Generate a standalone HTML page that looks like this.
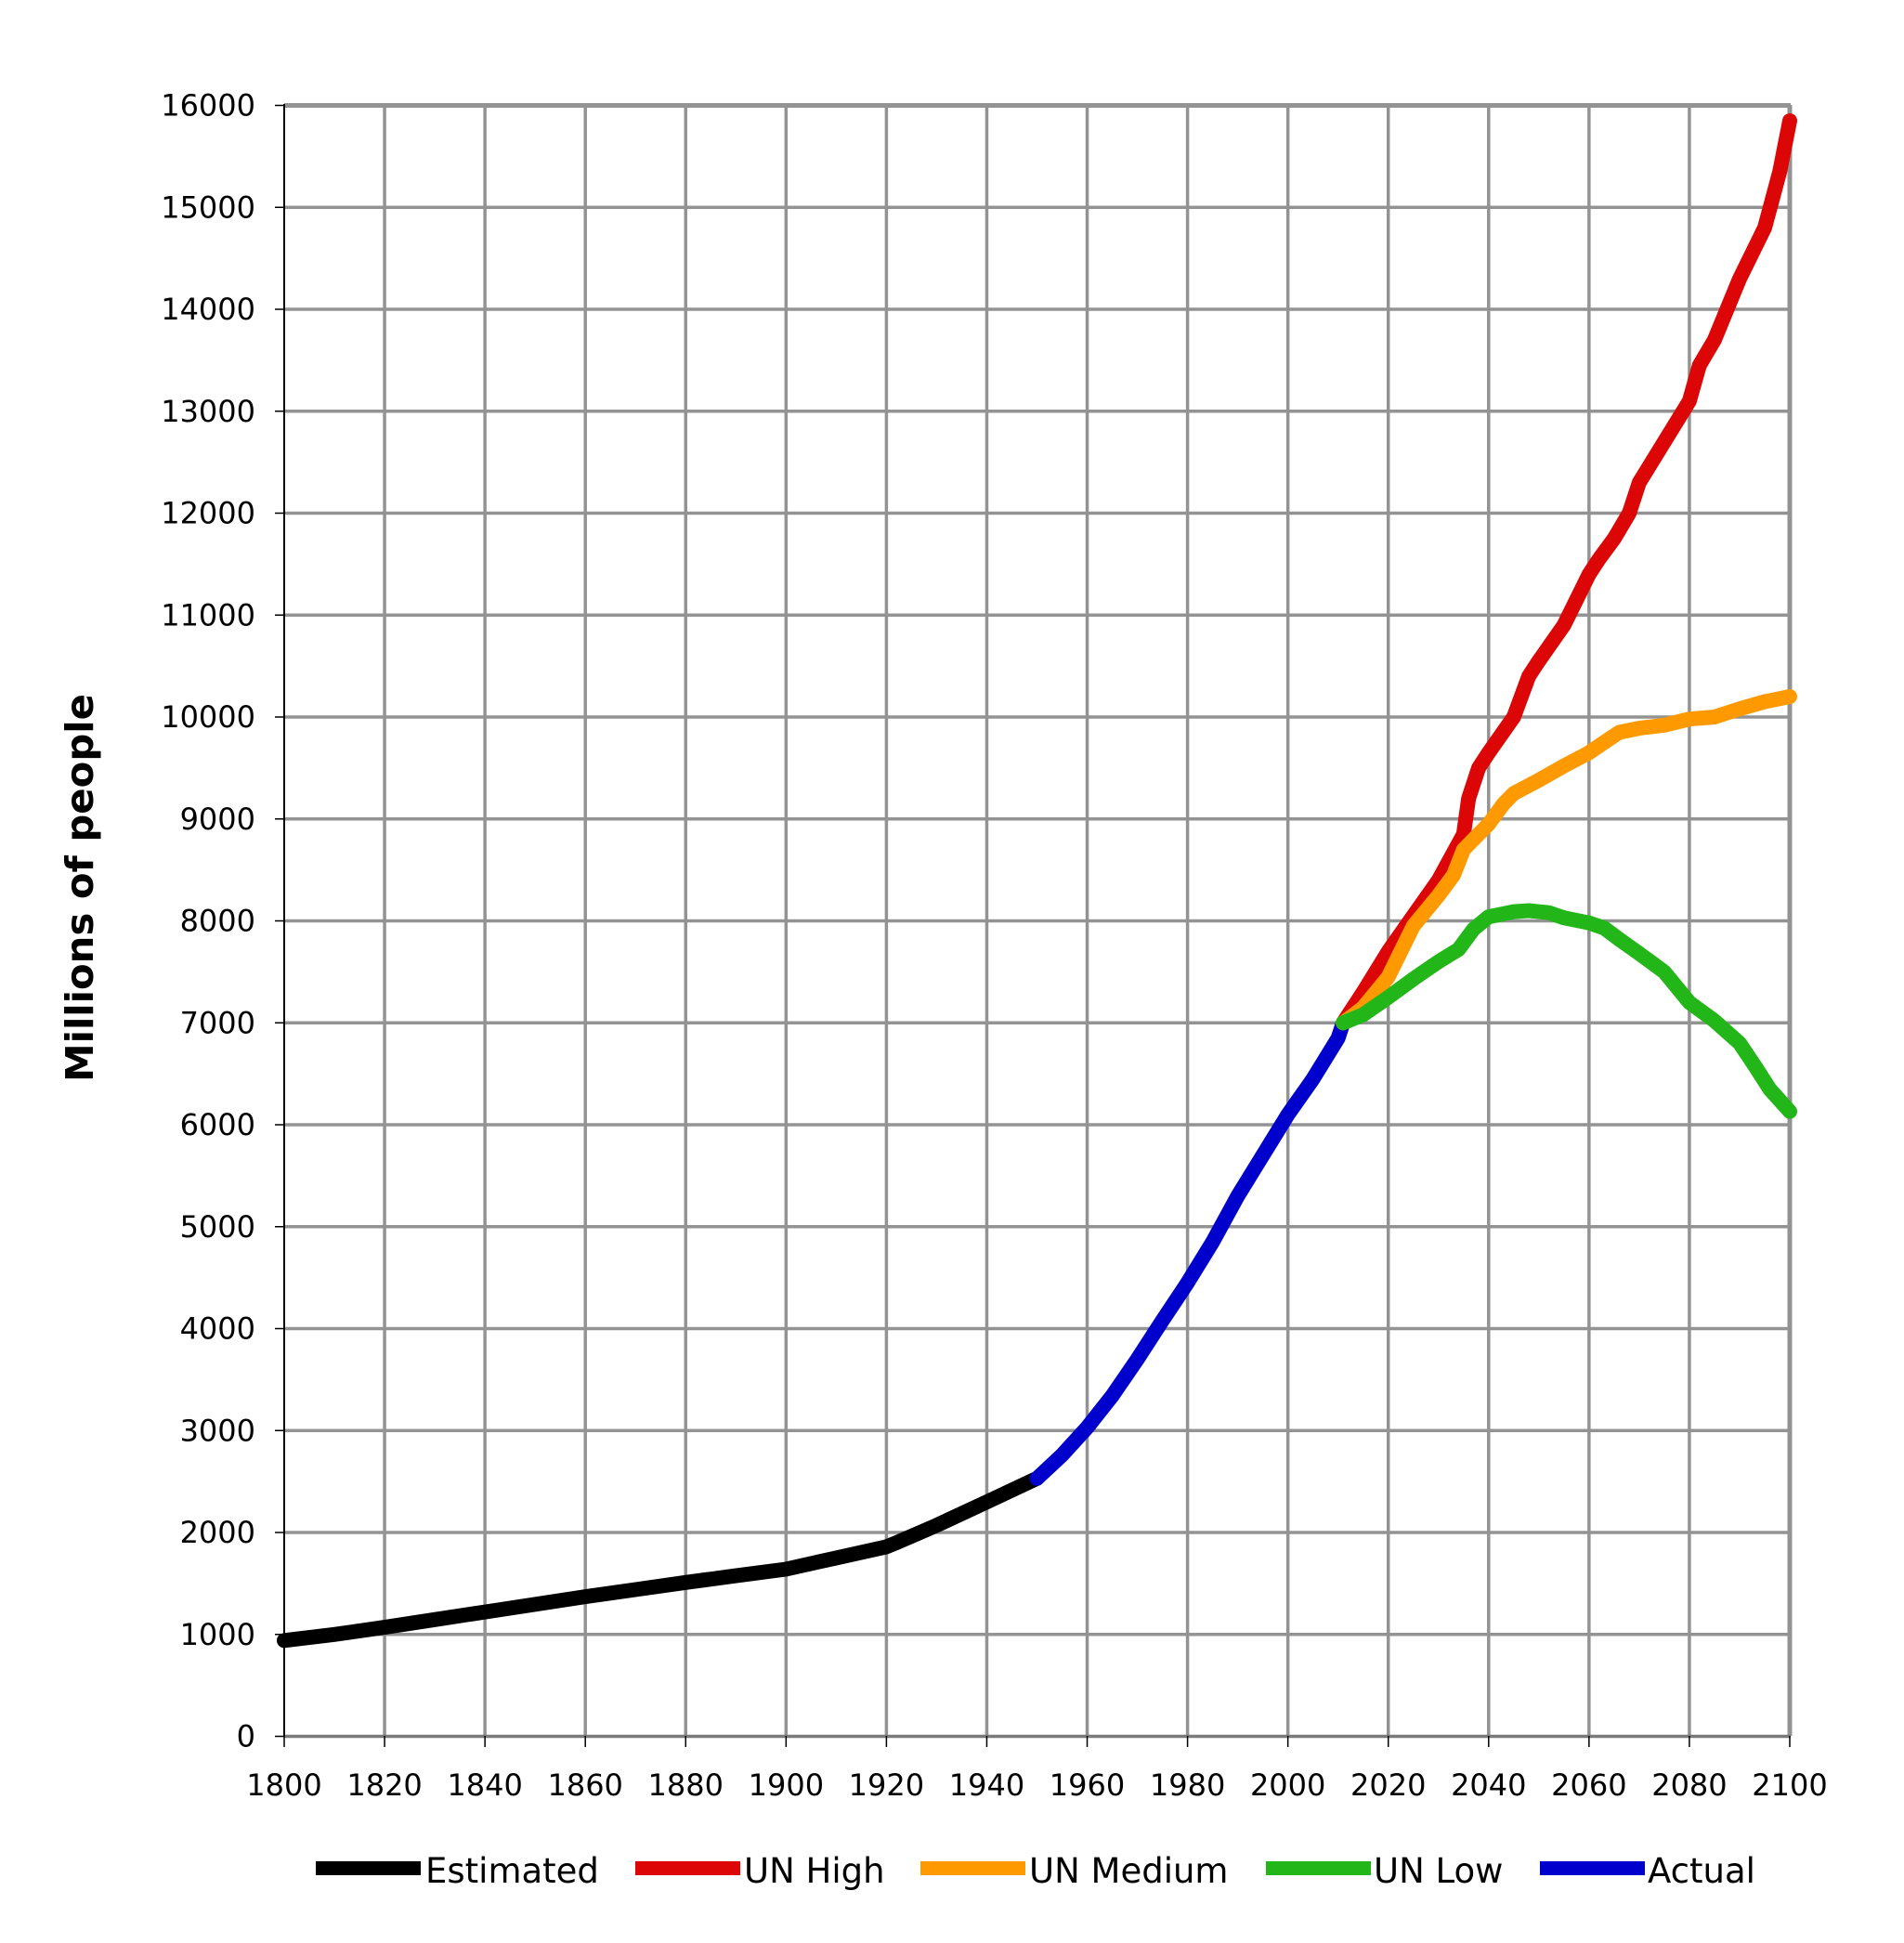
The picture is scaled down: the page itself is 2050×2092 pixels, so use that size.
<!DOCTYPE html>
<html><head><meta charset="utf-8"><style>
html,body{margin:0;padding:0;background:#fff;}
svg{display:block;}
text{font-family:"DejaVu Sans","Liberation Sans",sans-serif;fill:#000;}
</style></head><body>
<svg id="c" width="2050" height="2092" xmlns="http://www.w3.org/2000/svg">
<g id="grid"></g>
<g id="lines" fill="none" stroke-linejoin="round" stroke-linecap="round"></g>
<g font-size="32" text-anchor="end" id="ylab"></g>
<g font-size="32" text-anchor="middle" id="xlab"></g>
<text transform="translate(100,956) rotate(-90)" font-size="41" font-weight="bold" text-anchor="middle" textLength="418" lengthAdjust="spacingAndGlyphs">Millions of people</text>
<g font-size="37">
<rect x="340" y="2004" width="113" height="15" fill="#000"/><text x="458" y="2027">Estimated</text>
<rect x="684" y="2004" width="113" height="15" fill="#dd0606"/><text x="801" y="2027">UN High</text>
<rect x="991" y="2004" width="113" height="15" fill="#ff9900"/><text x="1108" y="2027">UN Medium</text>
<rect x="1363" y="2004" width="113" height="15" fill="#22b618"/><text x="1479" y="2027">UN Low</text>
<rect x="1658" y="2004" width="113" height="15" fill="#0000cc"/><text x="1774" y="2027">Actual</text>
</g>
</svg>
<script>
var NS="http://www.w3.org/2000/svg";
function X(y){return 306+(y-1800)*5.4033;}
function Y(v){return 1869.5-v*0.10975;}
function el(p,t,a,txt){var e=document.createElementNS(NS,t);for(var k in a)e.setAttribute(k,a[k]);if(txt!=null)e.textContent=txt;p.appendChild(e);return e;}
var g=document.getElementById('grid');
for(var i=1;i<=15;i++){el(g,'line',{x1:X(1800+i*20),x2:X(1800+i*20),y1:113,y2:1869,stroke:'#939393','stroke-width':i==15?5:3.5});}
for(var j=1;j<=16;j++){el(g,'line',{x1:306,x2:1928,y1:Y(j*1000),y2:Y(j*1000),stroke:'#939393','stroke-width':j==16?5:3.5});}
el(g,'line',{x1:306,x2:1928,y1:1869.5,y2:1869.5,stroke:'#7a7a7a','stroke-width':3.5});
el(g,'line',{x1:306,x2:306,y1:112,y2:1870,stroke:'#000','stroke-width':2});
for(var j=0;j<=16;j++){el(g,'line',{x1:296,x2:306,y1:Y(j*1000),y2:Y(j*1000),stroke:'#000','stroke-width':1.5});}
for(var i=0;i<=15;i++){el(g,'line',{x1:X(1800+i*20),x2:X(1800+i*20),y1:1869,y2:1881,stroke:'#000','stroke-width':1.5});}
var yl=document.getElementById('ylab');
for(var j=0;j<=16;j++){el(yl,'text',{x:275,y:Y(j*1000)+11},String(j*1000));}
var xl=document.getElementById('xlab');
for(var i=0;i<=15;i++){el(xl,'text',{x:X(1800+i*20),y:1933},String(1800+i*20));}
var L=document.getElementById('lines');
function line(d,c){var s=d.map(function(p){return X(p[0]).toFixed(1)+','+Y(p[1]).toFixed(1);}).join(' ');el(L,'polyline',{points:s,stroke:c,'stroke-width':16});}
line([[1800,940],[1810,1000],[1820,1070],[1830,1145],[1840,1220],[1850,1295],[1860,1370],[1870,1440],[1880,1510],[1890,1575],[1900,1640],[1910,1750],[1920,1860],[1922,1900],[1930,2070],[1940,2300],[1950,2530]],'#000');
line([[1950,2530],[1955,2760],[1960,3030],[1965,3340],[1970,3700],[1975,4080],[1980,4450],[1985,4850],[1990,5300],[1995,5700],[2000,6100],[2005,6450],[2010,6850],[2011,7000]],'#0000cc');
line([[2011,7000],[2015,7300],[2020,7700],[2025,8050],[2030,8400],[2035,8850],[2036,9200],[2038,9500],[2040,9650],[2045,10000],[2048,10400],[2050,10550],[2055,10900],[2060,11400],[2062,11550],[2065,11750],[2068,12000],[2070,12300],[2075,12700],[2080,13100],[2082,13450],[2085,13700],[2090,14300],[2095,14800],[2098,15350],[2100,15850]],'#dd0606');
line([[2011,7000],[2015,7150],[2020,7450],[2025,7950],[2030,8250],[2033,8450],[2035,8700],[2040,8950],[2043,9150],[2045,9250],[2050,9380],[2055,9520],[2060,9650],[2063,9750],[2066,9850],[2070,9890],[2075,9920],[2080,9980],[2085,10000],[2090,10080],[2095,10150],[2100,10200]],'#ff9900');
line([[2011,7000],[2015,7080],[2020,7250],[2025,7430],[2030,7600],[2034,7720],[2037,7920],[2040,8040],[2045,8090],[2048,8100],[2052,8080],[2055,8030],[2060,7980],[2063,7930],[2066,7820],[2070,7680],[2075,7500],[2080,7200],[2085,7020],[2090,6800],[2093,6580],[2096,6350],[2100,6130]],'#22b618');
</script>
</body></html>
